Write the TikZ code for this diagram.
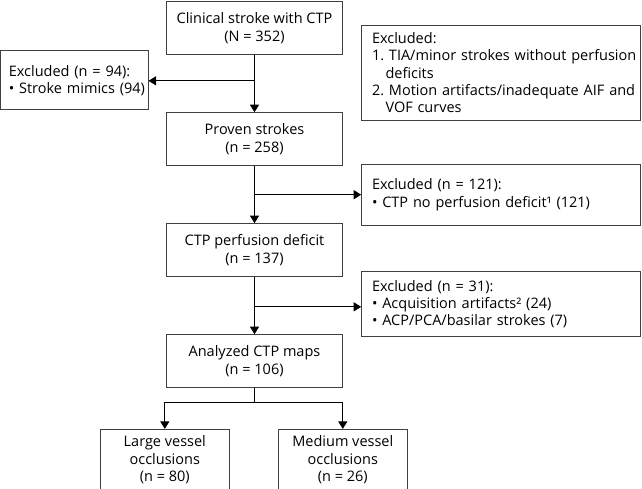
\documentclass[tikz,border=0pt]{standalone}
\usepackage{fontspec}
\setmainfont{Open Sans}
\usetikzlibrary{positioning, arrows.meta, calc}
\tikzset{
  stage/.style={
    rectangle,
    minimum width=175.6pt,
    minimum height=53pt,
    inner sep=2pt,
    align=center,
    draw=black!75,
    line width=1pt,
    font=\fontsize{14.5pt}{17.3pt}\selectfont\frenchspacing
    },
  outcome/.style={
    stage,
    minimum width=129pt,
    minimum height=61pt
    },
  exclwide/.style={
    rectangle,
    text width=275pt,
    inner xsep=1.8pt,
    align=left,
    draw=black!75,
    line width=1pt,
    font=\fontsize{14.5pt}{17.3pt}\selectfont\frenchspacing
    },
  exclnarrow/.style={
    exclwide,
    text width=145pt,
    inner xsep=1.15pt
    },
  arrow/.style={line width=1pt,-{Triangle[length=7.5pt,width=9pt]}},
  link/.style={line width=1pt}
}
\begin{document}
\begin{tikzpicture}[x=1pt, y=1pt, node distance=57pt]
\useasboundingbox (0,0) rectangle (642,-489);
% main column
\node (start) [stage] at (254.5,-28.2) {Clinical stroke with CTP\\(N = 352)};
\node (proven) [stage, below=of start] {Proven strokes\\(n = 258)};
\node (deficit) [stage, below=of proven] {CTP perfusion deficit\\(n = 137)};
\node (analyzed) [stage, below=of deficit] {Analyzed CTP maps\\(n = 106)};
\node (large) [outcome, below=40.7pt of analyzed, xshift=-89.7pt] {Large vessel\\occlusions\\(n = 80)};
\node (medium) [outcome, below=40.7pt of analyzed, xshift=88.3pt] {Medium vessel\\occlusions\\(n = 26)};
% exclusion boxes
\node (exclmimic) [exclnarrow, minimum height=59.3pt, left=17.7pt of start, yshift=-52.1pt]
  {\hspace*{7pt}Excluded (n = 94):\\\hspace*{7pt}• Stroke mimics (94)};
\node (exclall) [exclwide, minimum height=94.7pt, right=18.4pt of start, yshift=-44.5pt]
  {\hspace*{8.5pt}Excluded:\\\hspace*{8.5pt}1. TIA/minor strokes without perfusion\\\hspace*{22pt}deficits\\\hspace*{8.5pt}2. Motion artifacts/inadequate AIF and\\\hspace*{22pt}VOF curves};
\node (exclnodef) [exclwide, minimum height=61pt, right=18.4pt of proven, yshift=-55.5pt]
  {\hspace*{8.5pt}Excluded (n = 121):\\\hspace*{8.5pt}• CTP no perfusion deficit¹ (121)};
\node (exclacq) [exclwide, minimum height=65.7pt, right=18.4pt of deficit, yshift=-53.9pt]
  {\hspace*{8.5pt}Excluded (n = 31):\\\hspace*{8.5pt}• Acquisition artifacts² (24)\\\hspace*{8.5pt}• ACP/PCA/basilar strokes (7)};
% connectors
\coordinate (m1) at ($(start.south)!0.45!(proven.north)$);
\coordinate (m2) at ($(proven.south)!0.5!(deficit.north)$);
\coordinate (m3) at ($(deficit.south)!0.52!(analyzed.north)$);
\coordinate (split) at ($(analyzed.south)+(0,-14)$);
\draw[arrow] (start) -- (proven);
\draw[arrow] (proven) -- (deficit);
\draw[arrow] (deficit) -- (analyzed);
\draw[arrow] (m1) -- (m1 -| exclmimic.east);
\draw[arrow] (m2) -- (m2 -| exclnodef.west);
\draw[arrow] (m3) -- (m3 -| exclacq.west);
\draw[link] (analyzed) -- (split);
\draw[arrow] (split) -| (large.north);
\draw[arrow] (split) -| (medium.north);
\end{tikzpicture}
\end{document}
